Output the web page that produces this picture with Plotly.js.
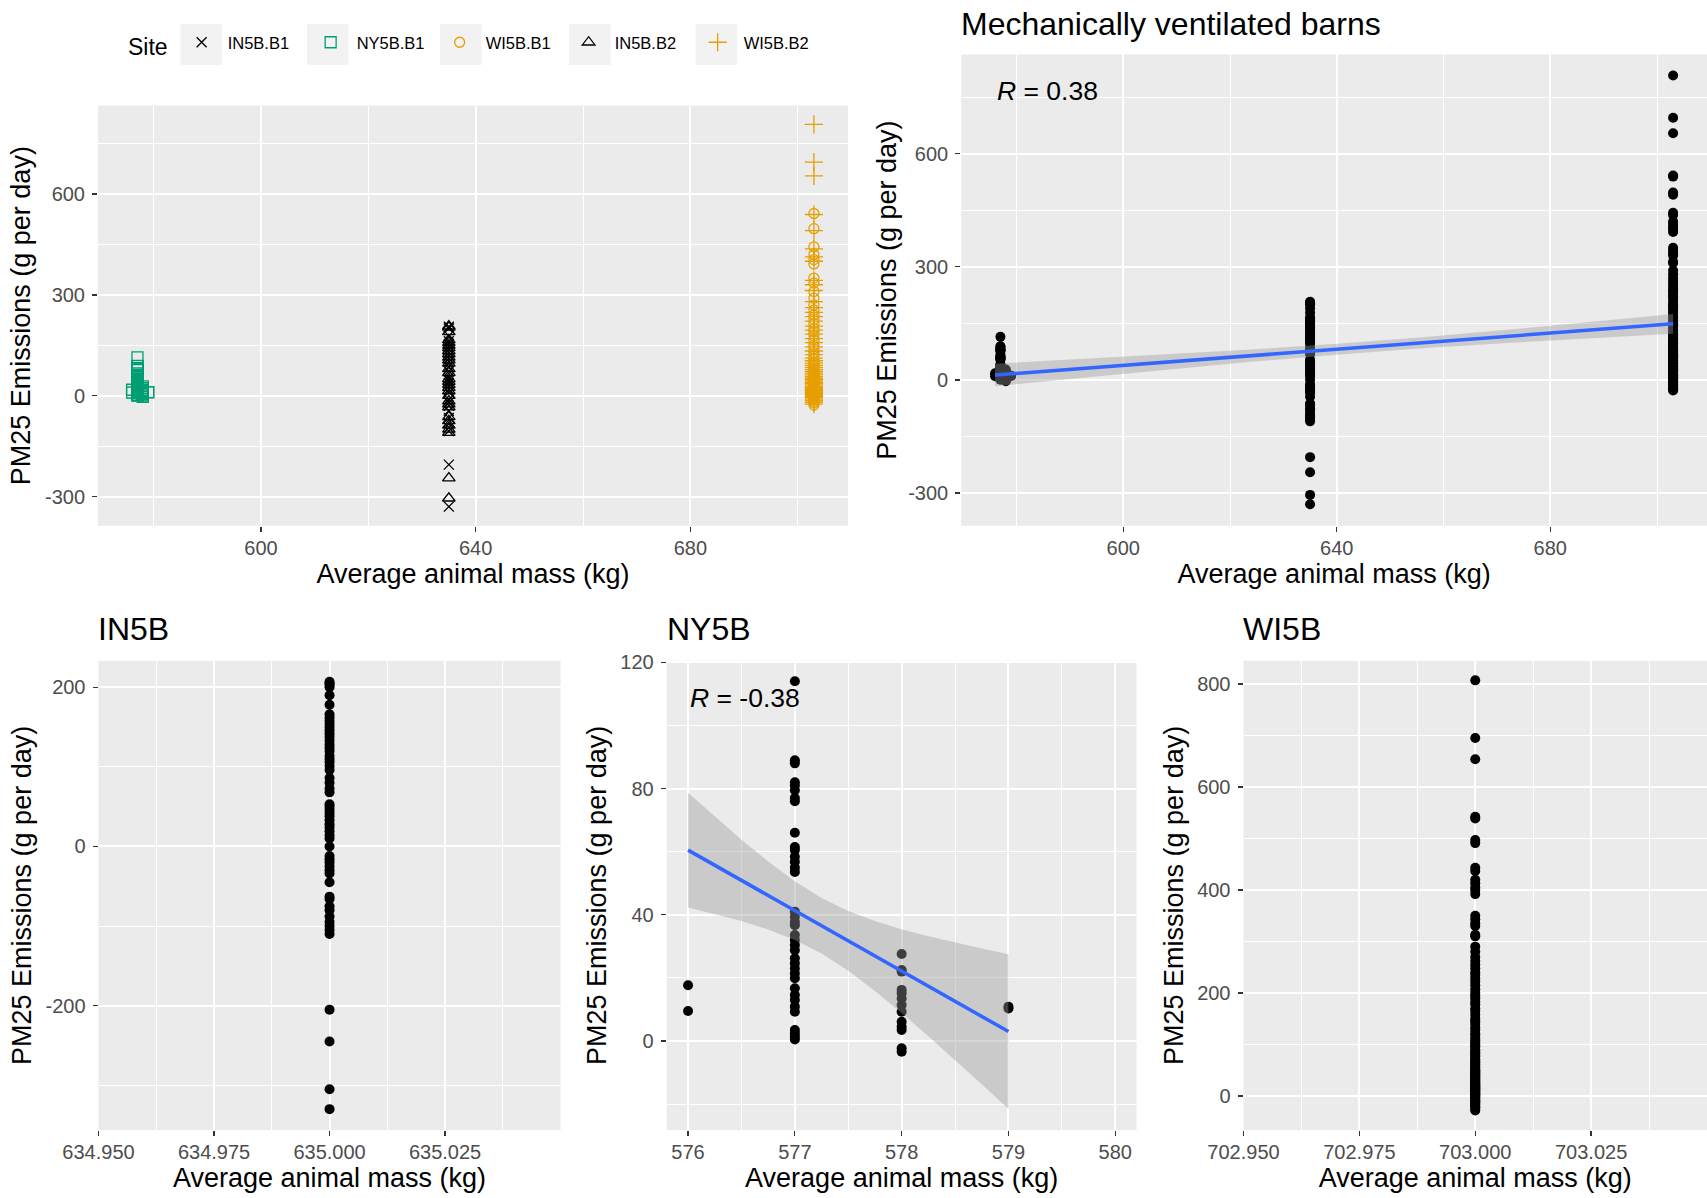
<!DOCTYPE html>
<html><head><meta charset="utf-8">
<script src="https://cdn.plot.ly/plotly-3.0.1.min.js"></script>
<style>html,body{margin:0;padding:0;background:#fff}</style>
</head><body><div id="chart" style="width:1707px;height:1198px"></div>
<script>
// ---------------- data ----------------
const siteNames = ['IN5B.B1', 'NY5B.B1', 'WI5B.B1', 'IN5B.B2', 'WI5B.B2'];
const inMass = 635;
const wiMass = 703;
const inB1PM = [205, 200, 178, 162, 154, 146, 138, 128, 120, 110, 101, 86, 73, 53, 46, 38, 28, 19, 10, -12, -20, -30, -45, -66, -80, -95, -105, -205, -330];
const inB2PM = [207, 203, 190, 166, 158, 150, 142, 133, 124, 114, 106, 96, 80, 68, 50, 42, 33, 24, 14, 0, -16, -25, -34, -63, -75, -88, -100, -110, -245, -305];
const nyMassLevels = [576, 577, 578, 579];
const ny576PM = [17.7, 9.5];
const ny577PM = [114, 89, 88, 82, 81, 79.5, 77, 76, 66, 61.5, 60.5, 58.4, 56.8, 55, 53.6, 41, 39.4, 37.8, 36.7, 33.6, 32, 30.4, 28.8, 26.2, 24.6, 23, 21.4, 19.9, 16.7, 14.6, 13, 10.9, 9.3, 3.5, 2.4, 1.4, 0.5];
const ny578PM = [27.6, 22.5, 22, 16.2, 15.1, 13.5, 11.4, 9.3, 6.1, 4.5, 3.5, -2.3, -3.4];
const ny579PM = [10.9, 10.3];
const wiB1PM = [542, 497, 443, 420, 405, 392, 350, 335, 310, 290, 270, 255, 240, 228, 215, 200, 190, 178, 165, 150, 140, 128, 118, 108, 100, 95, 88, 82, 76, 70, 65, 60, 55, 50, 46, 42, 38, 34, 30, 27, 24, 21, 18, 15, 12, 9, 6, 3, 0, -4, -8, -12, -17, -22, -28];
const wiB2PM = [807, 695, 654, 539, 491, 437, 413, 400, 343, 330, 313, 280, 262, 248, 235, 222, 207, 195, 183, 170, 158, 145, 133, 122, 112, 104, 97, 90, 84, 78, 72, 67, 62, 57, 52, 48, 44, 40, 36, 32, 28, 25, 22, 19, 16, 13, 10, 7, 4, 1, -2, -6, -10, -15, -20, -25];

// linear fits (lm) with 95% band
const allFitX  = [576, 592, 608, 624, 640, 656, 672, 688, 703];
const allFitY  = [12.8, 29.9, 47.0, 64.1, 81.2, 98.3, 115.4, 132.5, 148.5];
const allFitLo = [-17.2, 5.1, 27.0, 47.8, 66.9, 83.5, 97.9, 110.8, 122.2];
const allFitHi = [42.8, 54.7, 67.0, 80.4, 95.5, 113.1, 132.9, 154.2, 174.8];
const nyFitX  = [576, 576.25, 576.5, 576.75, 577, 577.25, 577.5, 577.75, 578, 578.25, 578.5, 578.75, 579];
const nyFitY  = [60.5, 55.71, 50.92, 46.12, 41.33, 36.54, 31.75, 26.96, 22.16, 17.37, 12.58, 7.79, 3.0];
const nyFitLo = [42.33, 40.29, 38.02, 35.35, 32.04, 27.73, 22.28, 15.88, 8.87, 1.52, -6.04, -13.73, -21.51];
const nyFitHi = [78.67, 71.13, 63.82, 56.89, 50.62, 45.35, 41.22, 38.04, 35.45, 33.22, 31.20, 29.31, 27.51];
const rAll = '0.38';
const rNY = '-0.38';

// tick values
const bigXTicks = [600, 640, 680];
const bigYTicks = [-300, 0, 300, 600];
const inXTicks = [634.95, 634.975, 635, 635.025];
const inYTicks = [-200, 0, 200];
const nyXTicks = [576, 577, 578, 579, 580];
const nyYTicks = [0, 40, 80, 120];
const wiXTicks = [702.95, 702.975, 703, 703.025];
const wiYTicks = [0, 200, 400, 600, 800];

// ---------------- build ----------------
const FONT = '"Liberation Sans", Arial, sans-serif';
const rep = (v, arr) => arr.map(() => v);
const nyX = [].concat(rep(576, ny576PM), rep(577, ny577PM), rep(578, ny578PM), rep(579, ny579PM));
const nyY = [].concat(ny576PM, ny577PM, ny578PM, ny579PM);
const inAllY = inB1PM.concat(inB2PM);
const wiAllY = wiB1PM.concat(wiB2PM);
const allX = nyX.concat(rep(inMass, inAllY), rep(wiMass, wiAllY));
const allY = nyY.concat(inAllY, wiAllY);

function openPts(x, y, name, symbol, color, size) {
  return {type: 'scatter', mode: 'markers', x: x, y: y, name: name, xaxis: 'x', yaxis: 'y',
    hoverinfo: 'skip', showlegend: true,
    marker: {symbol: symbol, size: size, color: color, line: {color: color, width: 1.3}}};
}
function dots(x, y, xa, ya) {
  return {type: 'scatter', mode: 'markers', x: x, y: y, xaxis: xa, yaxis: ya, showlegend: false,
    hoverinfo: 'skip', marker: {symbol: 'circle', size: 10, color: '#000'}};
}
function band(fx, lo, hi, xa, ya) {
  return {type: 'scatter', mode: 'lines', x: fx.concat(fx.slice().reverse()),
    y: hi.concat(lo.slice().reverse()), fill: 'toself', fillcolor: 'rgba(153,153,153,0.4)',
    line: {width: 0}, xaxis: xa, yaxis: ya, showlegend: false, hoverinfo: 'skip'};
}
function fitLine(fx, fy, xa, ya) {
  return {type: 'scatter', mode: 'lines', x: fx, y: fy, line: {color: '#3366FF', width: 3.5},
    xaxis: xa, yaxis: ya, showlegend: false, hoverinfo: 'skip'};
}

const traces = [
  openPts(rep(inMass, inB1PM), inB1PM, siteNames[0], 'x-thin-open', '#000000', 10),
  openPts(nyX, nyY, siteNames[1], 'square-open', '#009E73', 11),
  openPts(rep(wiMass, wiB1PM), wiB1PM, siteNames[2], 'circle-open', '#E69F00', 10),
  openPts(rep(inMass, inB2PM), inB2PM, siteNames[3], 'triangle-up-open', '#000000', 11),
  openPts(rep(wiMass, wiB2PM), wiB2PM, siteNames[4], 'cross-thin-open', '#E69F00', 13),
  dots(allX, allY, 'x2', 'y2'),
  band(allFitX, allFitLo, allFitHi, 'x2', 'y2'),
  fitLine(allFitX, allFitY, 'x2', 'y2'),
  dots(rep(inMass, inAllY), inAllY, 'x3', 'y3'),
  dots(nyX, nyY, 'x4', 'y4'),
  band(nyFitX, nyFitLo, nyFitHi, 'x4', 'y4'),
  fitLine(nyFitX, nyFitY, 'x4', 'y4'),
  dots(rep(wiMass, wiAllY), wiAllY, 'x5', 'y5')
];

const W = 1707, H = 1198;
const px = (a, b) => [a / W, b / W];
const py = (top, bottom) => [1 - bottom / H, 1 - top / H];
const lab = (vals) => vals.map(v => String(v));           // plain hyphen minus like ggplot
const lab3 = (vals) => vals.map(v => v.toFixed(3));

function axis(isX, minorvals, rest) {
  return Object.assign({
    showgrid: true, gridcolor: '#FFFFFF', gridwidth: 2, zeroline: false, showline: false,
    ticks: 'outside', ticklen: 5, tickwidth: 1.3, tickcolor: '#333333',
    tickfont: {family: FONT, size: 20, color: '#4D4D4D'}, ticklabelstandoff: isX ? -1 : 3,
    tickmode: 'array', automargin: false, fixedrange: true,
    minor: {tickmode: 'array', tickvals: minorvals, showgrid: true, gridcolor: '#FFFFFF', gridwidth: 1, ticks: ''}
  }, rest);
}
const xTitle = (s) => ({text: 'Average animal mass (kg)', font: {family: FONT, size: 27, color: '#000'}, standoff: s});
const yTitle = (s) => ({text: 'PM25 Emissions (g per day)', font: {family: FONT, size: 27, color: '#000'}, standoff: s});

const bigXM = [580, 620, 660, 700], bigYM = [-150, 150, 450, 750];

// grey legend key backgrounds (ggplot legend.key)
const keyLeft = [180.5, 307, 440, 569, 695.5];
const keyShapes = keyLeft.map(l => ({type: 'rect', xref: 'paper', yref: 'paper', layer: 'below',
  x0: l / W, x1: (l + 41.5) / W, y0: 1 - 65 / H, y1: 1 - 24 / H, fillcolor: '#F2F2F2', line: {width: 0}}));

const titleFont = {family: FONT, size: 32, color: '#000'};
const layout = {
  width: W, height: H, margin: {l: 0, r: 0, t: 0, b: 0},
  paper_bgcolor: '#FFFFFF', plot_bgcolor: '#EBEBEB',
  font: {family: FONT, color: '#000'},
  showlegend: true,
  legend: {orientation: 'h', x: 126 / W, xanchor: 'left', y: 1 - 45 / H, yanchor: 'middle',
    itemwidth: 42, entrywidth: 72, entrywidthmode: 'pixels',
    bgcolor: 'rgba(0,0,0,0)', font: {family: FONT, size: 16.5, color: '#000'},
    title: {text: 'Site', side: 'left', font: {family: FONT, size: 23, color: '#000'}}},
  shapes: keyShapes,
  xaxis: axis(true, bigXM, {domain: px(98, 848), range: [569.65, 709.35], tickvals: bigXTicks, ticktext: lab(bigXTicks), anchor: 'y', title: xTitle(6)}),
  yaxis: axis(false, bigYM, {domain: py(105.6, 525.8), range: [-387, 863], tickvals: bigYTicks, ticktext: lab(bigYTicks), anchor: 'x', title: yTitle(6)}),
  xaxis2: axis(true, bigXM, {domain: px(961.2, 1707), range: [569.65, 709.35], tickvals: bigXTicks, ticktext: lab(bigXTicks), anchor: 'y2', title: xTitle(6)}),
  yaxis2: axis(false, bigYM, {domain: py(54.4, 525.8), range: [-387, 863], tickvals: bigYTicks, ticktext: lab(bigYTicks), anchor: 'x2', title: yTitle(3)}),
  xaxis3: axis(true, [634.9625, 634.9875, 635.0125, 635.0375], {domain: px(98.5, 560.6), range: [634.95, 635.05], tickvals: inXTicks, ticktext: lab3(inXTicks), anchor: 'y3', title: xTitle(6)}),
  yaxis3: axis(false, [-300, -100, 100], {domain: py(660.8, 1130), range: [-356.2, 233.3], tickvals: inYTicks, ticktext: lab(inYTicks), anchor: 'x3', title: yTitle(6)}),
  xaxis4: axis(true, [576.5, 577.5, 578.5, 579.5], {domain: px(666.7, 1136.6), range: [575.8, 580.2], tickvals: nyXTicks, ticktext: lab(nyXTicks), anchor: 'y4', title: xTitle(6)}),
  yaxis4: axis(false, [-20, 20, 60, 100], {domain: py(660.8, 1130), range: [-28.2, 120.5], tickvals: nyYTicks, ticktext: lab(nyYTicks), anchor: 'x4', title: yTitle(5)}),
  xaxis5: axis(true, [702.9625, 702.9875, 703.0125, 703.0375], {domain: px(1243.5, 1707), range: [702.95, 703.05], tickvals: wiXTicks, ticktext: lab3(wiXTicks), anchor: 'y5', title: xTitle(6)}),
  yaxis5: axis(false, [100, 300, 500, 700], {domain: py(660.8, 1130), range: [-66, 845], tickvals: wiYTicks, ticktext: lab(wiYTicks), anchor: 'x5', title: yTitle(5)}),
  annotations: [
    {text: 'Mechanically ventilated barns', xref: 'paper', yref: 'paper', x: 959 / W, y: 1 - 24 / H, xanchor: 'left', yanchor: 'middle', showarrow: false, font: titleFont},
    {text: 'IN5B', xref: 'paper', yref: 'paper', x: 96 / W, y: 1 - 629 / H, xanchor: 'left', yanchor: 'middle', showarrow: false, font: titleFont},
    {text: 'NY5B', xref: 'paper', yref: 'paper', x: 665 / W, y: 1 - 629 / H, xanchor: 'left', yanchor: 'middle', showarrow: false, font: titleFont},
    {text: 'WI5B', xref: 'paper', yref: 'paper', x: 1241 / W, y: 1 - 629 / H, xanchor: 'left', yanchor: 'middle', showarrow: false, font: titleFont},
    {text: '<i>R</i> = ' + rAll, xref: 'x2', yref: 'y2', x: 576, y: Math.max.apply(null, allY), xanchor: 'left', yanchor: 'top', yshift: 2, showarrow: false, font: {family: FONT, size: 26.5, color: '#000'}},
    {text: '<i>R</i> = ' + rNY, xref: 'x4', yref: 'y4', x: 576, y: Math.max.apply(null, nyY), xanchor: 'left', yanchor: 'top', showarrow: false, font: {family: FONT, size: 26.5, color: '#000'}}
  ]
};

Plotly.newPlot('chart', traces, layout, {displayModeBar: false, staticPlot: true});
</script>
</body></html>
